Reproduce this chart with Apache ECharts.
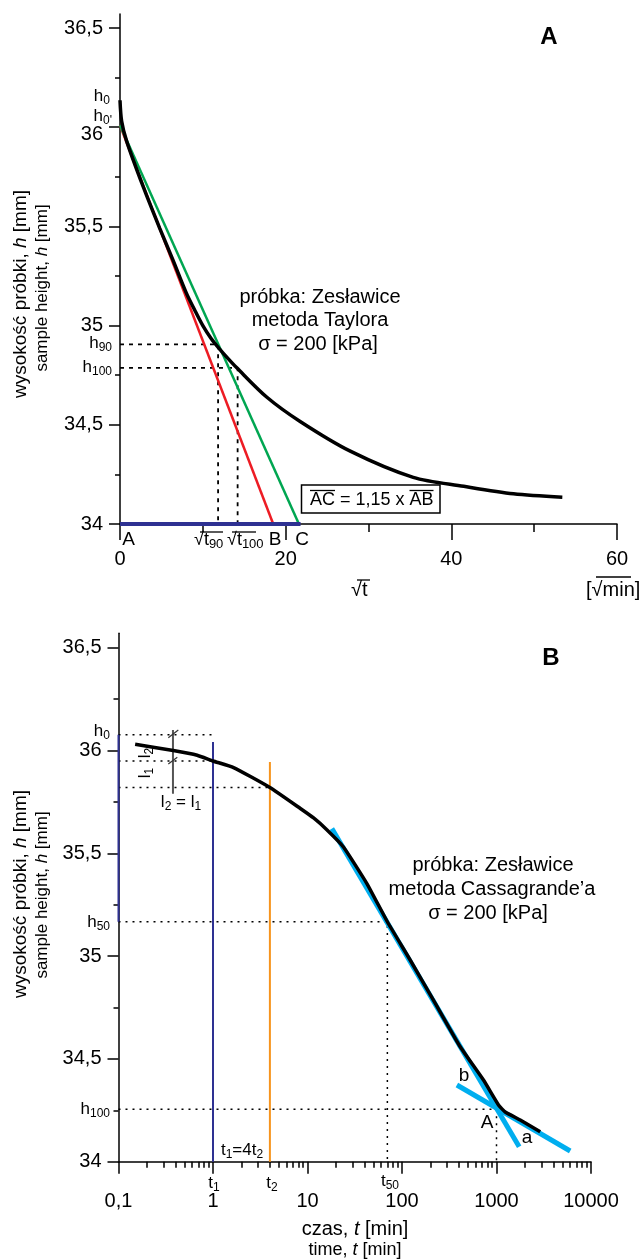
<!DOCTYPE html>
<html><head><meta charset="utf-8">
<script src="https://cdn.jsdelivr.net/npm/echarts@6/dist/echarts.min.js"></script>
<style>html,body{margin:0;padding:0;background:#fff}#c{width:643px;height:1259px}</style>
</head><body><div id="c"></div>
<script>
// ---------- Chart A: Taylor method (x = sqrt(t)) ----------
const sqrtT   = [0, 0.2, 0.8, 2.8, 4.8, 6.4, 8.0, 9.0, 10.0, 11.0, 12.0, 13.0, 14.1, 17.7, 21.7, 27.8, 35.4, 41.5, 47.5, 53.4];
const heightA = [36.136, 36.03, 35.93, 35.70, 35.49, 35.33, 35.165, 35.08, 35.0, 34.935, 34.883, 34.836, 34.787, 34.64, 34.518, 34.367, 34.235, 34.19, 34.152, 34.135];
const redX = [0, 18.5],   redH = [36.01, 34];
const greenX = [0, 21.6], greenH = [36.01, 34];
const baseX = [0, 21.8],  baseH = [34, 34];
const sqrtT90 = 11.84, h90 = 34.905;
const sqrtT100 = 14.2, h100A = 34.787;

// ---------- Chart B: Casagrande method (log t) ----------
const timeB   = [0.15, 0.38, 0.68, 1.0, 1.65, 4.0, 8.4, 11.6, 16, 24, 42.5, 70, 122, 215, 413, 728, 1050, 1236, 1782, 2900];
const heightB = [36.03, 36.0, 35.977, 35.949, 35.917, 35.82, 35.718, 35.672, 35.615, 35.531, 35.353, 35.167, 34.981, 34.786, 34.559, 34.397, 34.276, 34.242, 34.203, 34.146];
const steepX = [18.1, 1738], steepH = [35.62, 34.073];
const flatX  = [381, 6026],  flatH  = [34.373, 34.052];
const t1 = 1, t2 = 4, t50 = 70, t100 = 1000, tMin = 0.1;
const h0B = 36.077, hT1 = 35.949, hT2 = 35.82, h50 = 35.167, h100B = 34.255;
const t1Top = 36.041, t2Top = 35.944;
const tBar = 0.377, barH = [36.10, 35.79];

// ---------- tick values ----------
const yMajor = [34, 34.5, 35, 35.5, 36, 36.5];
const yMinor = [34.25, 34.75, 35.25, 35.75, 36.25];
const logMinor = [0.2,0.3,0.4,0.5,0.6,0.7,0.8,0.9, 2,3,4,5,6,7,8,9, 20,30,40,50,60,70,80,90,
                  200,300,400,500,600,700,800,900, 2000,3000,4000,5000,6000,7000,8000,9000];

const FF = '"Liberation Sans", Arial, Helvetica, sans-serif';
const zip = (xs, ys) => xs.map((x, i) => [x, ys[i]]);
const K = '#000';

function ls(xi, yi, data, color, width, type, z, extra) {
  return Object.assign({
    type: 'line', xAxisIndex: xi, yAxisIndex: yi, data: data, symbol: 'none',
    silent: true, animation: false, z: z || 2,
    lineStyle: { color: color, width: width, type: type || 'solid', cap: 'butt' }
  }, extra || {});
}

const yFmt = v => String(+(+v).toFixed(2)).replace('.', ',');
const axisLineS = { lineStyle: { color: K, width: 1.5 } };
function yAxes(gi, lowered) {
  return [
    { gridIndex: gi, type: 'value', min: 34, max: 36.57, position: 'left',
      axisLine: axisLineS,
      axisTick: { customValues: yMajor, length: 11, lineStyle: { color: K, width: 1.5 } },
      axisLabel: { customValues: yMajor, fontSize: 20, color: K, fontFamily: FF, margin: 17,
        formatter: v => (lowered && +v === 36 ? '{low|36}' : yFmt(v)),
        rich: { low: { fontSize: 20, fontFamily: FF, color: K, padding: [14, 0, 0, 0] } } },
      splitLine: { show: false } },
    { gridIndex: gi, type: 'value', min: 34, max: 36.57, position: 'left', offset: 0,
      axisLine: { show: false },
      axisTick: { customValues: yMinor, length: 5, lineStyle: { color: K, width: 1.5 } },
      axisLabel: { show: false }, splitLine: { show: false } }
  ];
}

const DASH = [4, 5], DOT = [2, 5];

const series = [
  // Chart A
  ls(0, 0, zip([0, sqrtT90, sqrtT90], [h90, h90, 34]), K, 1.8, DASH, 1),
  ls(0, 0, zip([0, sqrtT100, sqrtT100], [h100A, h100A, 34]), K, 1.8, DASH, 1),
  ls(0, 0, zip(redX, redH), '#ed1c24', 2.5),
  ls(0, 0, zip(greenX, greenH), '#00a651', 2.5),
  ls(0, 0, zip(baseX, baseH), '#2e3192', 4),
  ls(0, 0, zip(sqrtT, heightA), K, 3.5, 'solid', 5, { smooth: 0.3 }),
  // Chart B
  ls(1, 2, zip([tMin, t1], [h0B, h0B]), K, 1.5, DOT, 1),
  ls(1, 2, zip([tMin, t1], [hT1, hT1]), K, 1.5, DOT, 1),
  ls(1, 2, zip([tMin, t2], [hT2, hT2]), K, 1.5, DOT, 1),
  ls(1, 2, zip([tMin, t50, t50], [h50, h50, 34]), K, 1.5, DOT, 1),
  ls(1, 2, zip([tMin, t100, t100], [h100B, h100B, 34]), K, 1.5, DOT, 1),
  ls(1, 2, zip([tMin, tMin], [h0B, h50]), '#2e3192', 2),
  ls(1, 2, zip([tBar, tBar], barH), '#555', 2),
  ls(1, 2, zip([t1, t1], [t1Top, 34]), '#2e3192', 2),
  ls(1, 2, zip([t2, t2], [t2Top, 34]), '#f7941d', 2),
  ls(1, 2, zip(steepX, steepH), '#00aeef', 5, 'solid', 3),
  ls(1, 2, zip(flatX, flatH), '#00aeef', 5, 'solid', 3),
  ls(1, 2, zip(timeB, heightB), K, 3.5, 'solid', 5, { smooth: 0.15 })
];

// ---------- annotations ----------
const sub = (fs, sfs) => ({
  n: { fontSize: fs, fontFamily: FF, fill: K, lineHeight: fs + 4 },
  i: { fontSize: fs, fontFamily: FF, fill: K, lineHeight: fs + 4, fontStyle: 'italic' },
  r: { fontSize: fs, fontFamily: FF, fill: K, lineHeight: fs + 4 },
  s: { fontSize: sfs, fontFamily: FF, fill: K, lineHeight: 10, verticalAlign: 'bottom' }
});
function T(x, y, text, fs, opts) {
  opts = opts || {};
  return {
    type: 'text', x: x, y: y, rotation: opts.rot || 0, z: 100,
    style: {
      text: text, fontSize: fs, fontFamily: FF, fill: K,
      fontWeight: opts.bold ? 'bold' : 'normal',
      align: opts.align || 'center', verticalAlign: 'middle',
      rich: sub(fs, opts.sfs || Math.round(fs * 0.7))
    }
  };
}
function L(x1, y1, x2, y2, w, c) {
  return { type: 'line', z: 100, shape: { x1: x1, y1: y1, x2: x2, y2: y2 }, style: { stroke: c || K, lineWidth: w || 1.3 } };
}

const graphic = [
  // Chart A
  T(549, 37, 'A', 24, { bold: true }),
  T(110, 96, '{n|h}{s|0}', 17, { align: 'right', sfs: 12 }),
  T(112, 116, "{n|h}{s|0'}", 17, { align: 'right', sfs: 12 }),
  T(112, 343, '{n|h}{s|90}', 17, { align: 'right', sfs: 12 }),
  T(112, 367, '{n|h}{s|100}', 17, { align: 'right', sfs: 12 }),
  T(320, 297, 'próbka: Zesławice', 20),
  T(320, 320, 'metoda Taylora', 20),
  T(318, 344, 'σ = 200 [kPa]', 20),
  { type: 'rect', z: 99, shape: { x: 301.5, y: 485, width: 138.5, height: 28 }, style: { fill: '#fff', stroke: K, lineWidth: 1.5 } },
  T(310, 500, 'AC = 1,15 x AB', 18, { align: 'left' }),
  L(310, 490.5, 335, 490.5, 1.3), L(409.5, 490.5, 433.5, 490.5, 1.3),
  T(128.5, 540, 'A', 19),
  T(194, 540, '{r|√}{n|t}{s|90}', 18, { align: 'left', sfs: 13 }),
  T(227, 540, '{r|√}{n|t}{s|100}', 18, { align: 'left', sfs: 13 }),
  L(200, 532, 223, 532, 1.3), L(232, 532, 256, 532, 1.3),
  T(275, 540, 'B', 19),
  T(302, 540, 'C', 19),
  T(351, 590, '√t', 20, { align: 'left' }), L(357, 580, 370, 580, 1.3),
  T(586, 590, '[√min]', 20, { align: 'left' }), L(596, 577, 631, 577, 1.3),
  T(21, 294, 'wysokość próbki, {i|h} [mm]', 19, { rot: Math.PI / 2 }),
  T(42, 288, 'sample height, {i|h} [mm]', 17, { rot: Math.PI / 2 }),
  // Chart B
  T(551, 658, 'B', 24, { bold: true }),
  T(110, 731, '{n|h}{s|0}', 17, { align: 'right', sfs: 12 }),
  T(110, 922, '{n|h}{s|50}', 17, { align: 'right', sfs: 12 }),
  T(110, 1109, '{n|h}{s|100}', 17, { align: 'right', sfs: 12 }),
  L(168.3, 737.7, 178.3, 730, 1.2, '#333'), L(168.3, 764, 177.3, 757.3, 1.2, '#333'),
  T(145, 753, '{n|l}{s|2}', 17, { rot: Math.PI / 2, sfs: 12 }),
  T(145, 773, '{n|l}{s|1}', 17, { rot: Math.PI / 2, sfs: 12 }),
  T(181, 802, '{n|l}{s|2}{n| = l}{s|1}', 17, { sfs: 12 }),
  T(493, 865, 'próbka: Zesławice', 20),
  T(492, 889, 'metoda Cassagrande’a', 20),
  T(488, 913, 'σ = 200 [kPa]', 20),
  T(242, 1150, '{n|t}{s|1}{n|=4t}{s|2}', 17, { sfs: 12 }),
  T(214, 1183, '{n|t}{s|1}', 17, { sfs: 12 }),
  T(272, 1183, '{n|t}{s|2}', 17, { sfs: 12 }),
  T(390, 1181, '{n|t}{s|50}', 17, { sfs: 12 }),
  T(464, 1076, 'b', 19),
  T(527, 1138, 'a', 19),
  T(487, 1123, 'A', 19),
  T(355, 1229, 'czas, {i|t} [min]', 20),
  T(355, 1250, 'time, {i|t} [min]', 18),
  T(21, 894, 'wysokość próbki, {i|h} [mm]', 19, { rot: Math.PI / 2 }),
  T(42, 895, 'sample height, {i|h} [mm]', 17, { rot: Math.PI / 2 })
];

const option = {
  animation: false,
  backgroundColor: '#fff',
  textStyle: { fontFamily: FF, color: K },
  grid: [
    { left: 120, top: 14.1, width: 497, height: 509.9, containLabel: false, outerBoundsMode: 'none' },
    { left: 118.5, top: 633.3, width: 472.5, height: 528.4, containLabel: false, outerBoundsMode: 'none' }
  ],
  xAxis: [
    { gridIndex: 0, type: 'value', min: 0, max: 60, interval: 20,
      axisLine: axisLineS,
      axisTick: { length: 16, lineStyle: { color: K, width: 1.5 } },
      minorTick: { show: true, splitNumber: 2, length: 8, lineStyle: { color: K, width: 1.5 } },
      axisLabel: { fontSize: 20, color: K, fontFamily: FF, margin: 25 },
      splitLine: { show: false }, minorSplitLine: { show: false } },
    { gridIndex: 1, type: 'log', logBase: 10, min: 0.1, max: 10000, position: 'bottom',
      axisLine: axisLineS,
      axisTick: { length: 12, lineStyle: { color: K, width: 1.5 } },
      axisLabel: { fontSize: 20, color: K, fontFamily: FF, margin: 30,
        formatter: v => (v < 1 ? '0,1' : String(Math.round(v))) },
      splitLine: { show: false } },
    { gridIndex: 1, type: 'log', logBase: 10, min: 0.1, max: 10000, position: 'bottom', offset: 0,
      axisLine: { show: false },
      axisTick: { customValues: logMinor, length: 6, lineStyle: { color: K, width: 1.5 } },
      axisLabel: { show: false }, splitLine: { show: false } }
  ],
  yAxis: yAxes(0, true).concat(yAxes(1, false)),
  series: series,
  graphic: graphic
};

const chart = echarts.init(document.getElementById('c'), null, { renderer: 'canvas', width: 643, height: 1259 });
chart.setOption(option);
</script>
</body></html>
